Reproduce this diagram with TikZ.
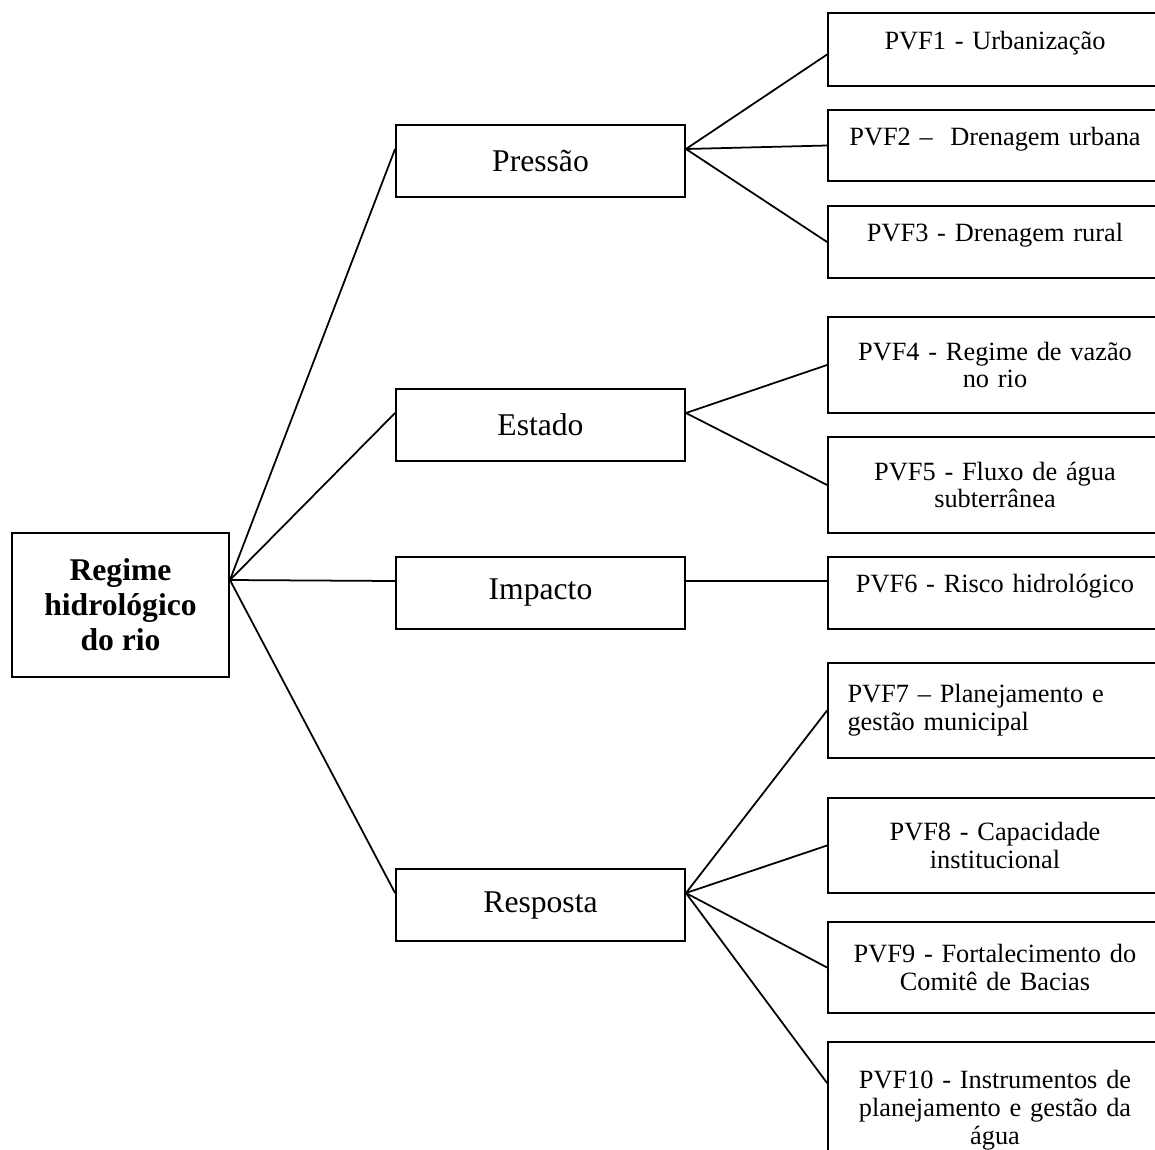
\documentclass[tikz,border=0pt]{standalone}
\usepackage{fontspec}
\setmainfont{Liberation Serif}
\usetikzlibrary{positioning, calc}

\begin{document}
\begin{tikzpicture}[
    x=0.02cm, y=-0.02cm,
    box/.style={rectangle, draw=black, line width=1.1pt, inner sep=3pt, align=center},
    topic/.style={box, minimum width=4.34cm, minimum height=2.88cm,
        font=\fontsize{18}{20}\selectfont\bfseries},
    dpsir/.style={box, minimum width=5.78cm, minimum height=1.44cm,
        font=\fontsize{18}{20}\selectfont},
    pvf/.style={box, minimum width=6.68cm, text width=5.9cm,
        font=\fontsize{15}{15.8}\selectfont},
    pvfone/.style={pvf, text depth=0.38cm},
    conn/.style={line width=1pt, black}
]
    \path[use as bounding box, clip] (0,0) rectangle (1155,1149);

    % left: main theme
    \node[topic] (root) at (120.5,605) {Regime\\hidrológico\\do rio};

    % middle column
    \node[dpsir] (pres) at (540.5,161) {Pressão};
    \node[dpsir] (est) at (540.5,425) {Estado};
    \node[dpsir] (imp) at (540.5,593) {Impacto};
    \node[dpsir] (resp) at (540.5,905) {Resposta};

    % right column
    \node[pvfone, minimum height=1.46cm] (f1) at (995,49.5) {PVF1 - Urbanização};
    \node[pvfone, minimum height=1.42cm] (f2) at (995,145.5) {PVF2 –\ \ Drenagem urbana};
    \node[pvfone, minimum height=1.44cm] (f3) at (995,242) {PVF3 - Drenagem rural};
    \node[pvf, minimum height=1.92cm] (f4) at (995,365) {PVF4 - Regime de vazão\\no rio};
    \node[pvf, minimum height=1.92cm] (f5) at (995,485) {PVF5 - Fluxo de água\\subterrânea};
    \node[pvfone, minimum height=1.44cm] (f6) at (995,593) {PVF6 - Risco hidrológico};
    \node[pvf, align=left, minimum height=1.9cm] (f7) at (995,710.5) {PVF7 – Planejamento e\\gestão municipal};
    \node[pvf, minimum height=1.9cm] (f8) at (995,845.5) {PVF8 - Capacidade\\institucional};
    \node[pvf, minimum height=1.82cm] (f9) at (995,967.5) {PVF9 - Fortalecimento do\\Comitê de Bacias};
    \node[pvf, minimum height=2.72cm] (f10) at (995,1110) {PVF10 - Instrumentos de\\planejamento e gestão da\\água};

    % root to middle column
    \coordinate (rootR) at ([yshift=0.5cm]root.east);
    \foreach \m in {pres, est, imp, resp} {
        \coordinate (\m-l) at ([yshift=0.24cm]\m.west);
        \coordinate (\m-r) at ([yshift=0.24cm]\m.east);
        \draw[conn] (rootR) -- (\m-l);
    }

    % middle to right column
    \coordinate (f1-l) at ([yshift=-0.1cm]f1.west);
    \coordinate (f6-l) at ([yshift=0.24cm]f6.west);
    \coordinate (f10-l) at ([yshift=0.54cm]f10.west);
    \draw[conn] (pres-r) -- (f1-l);
    \foreach \f in {f2, f3}
        \draw[conn] (pres-r) -- (\f.west);
    \foreach \f in {f4, f5}
        \draw[conn] (est-r) -- (\f.west);
    \draw[conn] (imp-r) -- (f6-l);
    \foreach \f in {f7, f8, f9}
        \draw[conn] (resp-r) -- (\f.west);
    \draw[conn] (resp-r) -- (f10-l);
\end{tikzpicture}
\end{document}
